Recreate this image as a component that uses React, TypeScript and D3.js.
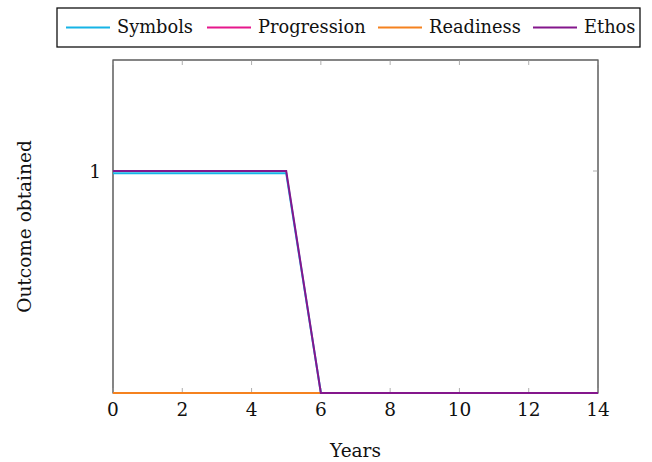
import React, { useEffect, useRef } from "react";
import * as d3 from "d3";

const years = [0, 1, 2, 3, 4, 5, 6, 7, 8, 9, 10, 11, 12, 13, 14];
const symbols = [0.99, 0.99, 0.99, 0.99, 0.99, 0.99, 0, 0, 0, 0, 0, 0, 0, 0, 0];
const progression = [0, 0, 0, 0, 0, 0, 0, 0, 0, 0, 0, 0, 0, 0, 0];
const readiness = [0, 0, 0, 0, 0, 0, 0, 0, 0, 0, 0, 0, 0, 0, 0];
const ethos = [1, 1, 1, 1, 1, 1, 0, 0, 0, 0, 0, 0, 0, 0, 0];
const seriesNames = ["Symbols", "Progression", "Readiness", "Ethos"];
const seriesColors = ["#16b4e6", "#e6178c", "#f5821f", "#84168c"];
const xTicks = [0, 2, 4, 6, 8, 10, 12, 14];
const yTicks = [1];

const W = 652;
const H = 462;
const FONT = "DejaVu Serif";
const FS = 18.5;

export default function App() {
  const ref = useRef<SVGSVGElement>(null);

  useEffect(() => {
    const svg = d3.select(ref.current);
    svg.selectAll("*").remove();

    const left = 113, right = 598, top = 60, bottom = 393;
    const x = d3.scaleLinear().domain([0, 14]).range([left, right]);
    const y = d3.scaleLinear().domain([0, 1.5]).range([bottom, top]);

    const g = svg.append("g");
    const tickColor = "#9a9a9a";

    const txt = (sel: d3.Selection<SVGTextElement, unknown, null, undefined>, size = FS) =>
      sel.style("font-family", FONT).style("font-size", `${size}px`).attr("fill", "#111");

    // frame
    g.append("rect").attr("x", left).attr("y", top).attr("width", right - left).attr("height", bottom - top)
      .attr("fill", "none").attr("stroke", "#222").attr("stroke-width", 1.1);

    // tick marks on all four sides
    xTicks.forEach((t) => {
      g.append("line").attr("x1", x(t)).attr("x2", x(t)).attr("y1", bottom).attr("y2", bottom - 5)
        .attr("stroke", tickColor).attr("stroke-width", 0.8);
      g.append("line").attr("x1", x(t)).attr("x2", x(t)).attr("y1", top).attr("y2", top + 5)
        .attr("stroke", tickColor).attr("stroke-width", 0.8);
      txt(g.append("text").attr("x", x(t)).attr("y", bottom + 23).attr("text-anchor", "middle")).text(String(t));
    });
    yTicks.forEach((t) => {
      g.append("line").attr("x1", left).attr("x2", left + 5).attr("y1", y(t)).attr("y2", y(t))
        .attr("stroke", tickColor).attr("stroke-width", 0.8);
      g.append("line").attr("x1", right).attr("x2", right - 5).attr("y1", y(t)).attr("y2", y(t))
        .attr("stroke", tickColor).attr("stroke-width", 0.8);
      txt(g.append("text").attr("x", left - 12).attr("y", y(t) + 7).attr("text-anchor", "end")).text(String(t));
    });

    const data = [symbols, progression, readiness, ethos];
    const line = d3.line<number>().x((_, i) => x(years[i])).y((d) => y(d));
    data.forEach((vals, i) => {
      g.append("path").attr("d", line(vals) as string).attr("fill", "none")
        .attr("stroke", seriesColors[i]).attr("stroke-width", 2).attr("stroke-linejoin", "miter");
    });

    // axis labels
    txt(g.append("text").attr("x", (left + right) / 2).attr("y", 457).attr("text-anchor", "middle")).text("Years");
    txt(g.append("text").attr("transform", `translate(31, ${(top + bottom) / 2}) rotate(-90)`)
      .attr("text-anchor", "middle")).text("Outcome obtained");

    // legend
    const lg = svg.append("g");
    lg.append("rect").attr("x", 57).attr("y", 8).attr("width", 583).attr("height", 39)
      .attr("fill", "#fff").attr("stroke", "#111").attr("stroke-width", 1.3);
    const lineStarts = [66, 207, 378, 533];
    seriesNames.forEach((name, i) => {
      const sx = lineStarts[i];
      lg.append("line").attr("x1", sx).attr("x2", sx + 44).attr("y1", 27.5).attr("y2", 27.5)
        .attr("stroke", seriesColors[i]).attr("stroke-width", 2);
      txt(lg.append("text").attr("x", sx + 51).attr("y", 33), 17.8).text(name);
    });
  }, []);

  return <svg ref={ref} width={W} height={H} style={{ position: "absolute", left: 0, top: 0 }} />;
}
